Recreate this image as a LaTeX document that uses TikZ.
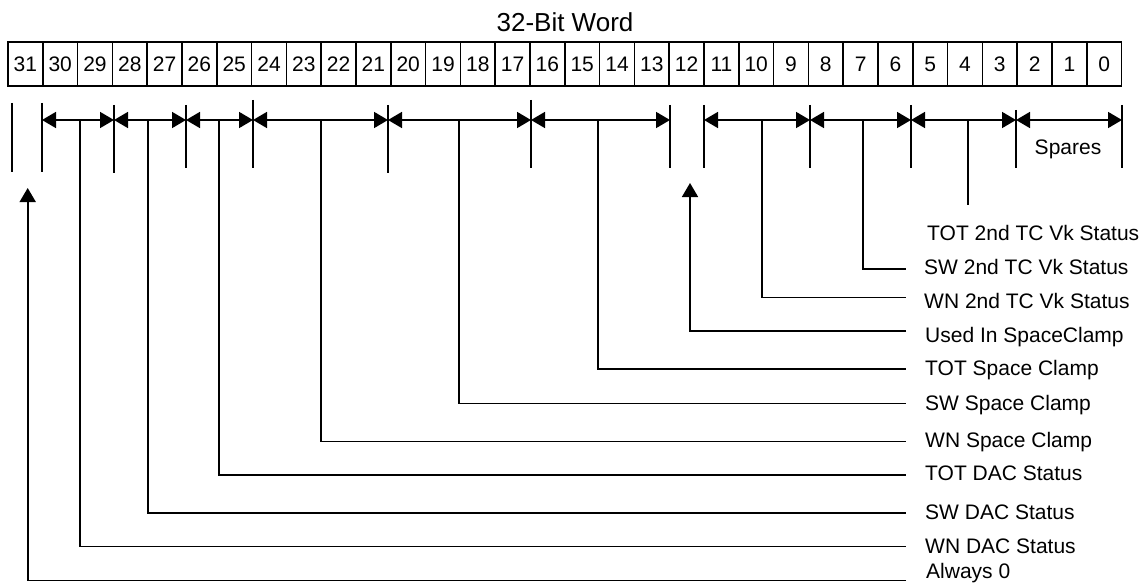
\documentclass[tikz,border=0pt]{standalone}
\usepackage{fontspec}
\setmainfont{Liberation Sans}
\usetikzlibrary{arrows.meta}
\begin{document}
\begin{tikzpicture}[x=1pt,y=-1pt,
  ln/.style={line width=1.7pt,line cap=butt},
  cell/.style={draw,line width=1.7pt,minimum width=34.8pt,minimum height=44pt,inner sep=0pt,font=\fontsize{21}{25}\selectfont},
  dimarrow/.style={ln,{Triangle[length=14pt,width=16pt]}-{Triangle[length=14pt,width=16pt]}},
  uparrow/.style={ln,-{Triangle[length=14pt,width=16pt]}},
  lbl/.style={anchor=base west,inner sep=0pt,font=\fontsize{21}{25}\selectfont},
  ttl/.style={inner sep=0pt,font=\fontsize{26}{30}\selectfont}]
\useasboundingbox (0,0) rectangle (1139,583);
% title
\node[ttl] (title) at (565,22.7) {32-Bit Word};
% register cells
\foreach \i in {0,...,31}{
  \node[cell] (b\i) at ({8+34.8*(31-\i)+17.4},64) {\i};
}
% ticks (x, top, bottom)
\foreach \n/\x/\ya/\yb in {0/12/103/172, 1/42/103/172, 2/114/105/173, 3/186/105/168,
  4/253/100/168, 5/388/105/173, 6/531/100/168, 7/670/105/168, 8/704/105/168,
  9/810/105/168, 10/911/105/168, 11/1016/110/168, 12/1122/105/168}{
  \coordinate (ta\n) at (\x,\ya);
  \coordinate (tb\n) at (\x,\yb);
  \coordinate (tm\n) at (\x,120);
  \draw[ln] (ta\n) -- (tb\n);
}
% dimension arrows
\foreach \a/\b in {1/2,2/3,3/4,4/5,5/6,6/7,8/9,9/10,10/11,11/12}{
  \draw[dimarrow] (tm\a) -- (tm\b);
}
% spares label
\node[lbl,anchor=base] (spares) at (1068,154.3) {Spares};
% labels
\node[lbl] (l1) at (927,240.5) {TOT 2nd TC Vk Status};
\node[lbl] (l2) at (924,274.2) {SW 2nd TC Vk Status};
\node[lbl] (l3) at (924,308.5) {WN 2nd TC Vk Status};
\node[lbl] (l4) at (925,342.5) {Used In SpaceClamp};
\node[lbl] (l5) at (925,375.5) {TOT Space Clamp};
\node[lbl] (l6) at (925,410.2) {SW Space Clamp};
\node[lbl] (l7) at (925,447.5) {WN Space Clamp};
\node[lbl] (l8) at (925,480.5) {TOT DAC Status};
\node[lbl] (l9) at (925,519.2) {SW DAC Status};
\node[lbl] (l10) at (925,553.3) {WN DAC Status};
\node[lbl] (l11) at (926,578.5) {Always 0};
% leader start points on the dimension line
\coordinate (s1) at (968,120);
\coordinate (s2) at (863,120);
\coordinate (s3) at (762,120);
\coordinate (s5) at (598,120);
\coordinate (s6) at (459,120);
\coordinate (s7) at (321,120);
\coordinate (s8) at (219,120);
\coordinate (s9) at (148,120);
\coordinate (s10) at (80,120);
% leader ends
\coordinate (e1) at (968,205);
\coordinate (e2) at (906,268.8);
\coordinate (e3) at (906,297.5);
\coordinate (e4) at (906,331);
\coordinate (e5) at (906,369.3);
\coordinate (e6) at (906,403.5);
\coordinate (e7) at (906,441.5);
\coordinate (e8) at (906,475);
\coordinate (e9) at (906,513.3);
\coordinate (e10) at (906,546.5);
\coordinate (e11) at (906,580.5);
% up arrow tips
\coordinate (u4) at (690,183);
\coordinate (u11) at (27.7,188);
% leaders
\draw[ln] (s1) -- (e1);
\foreach \k in {2,3,5,6,7,8,9,10}{
  \draw[ln] (s\k) |- (e\k);
}
\draw[uparrow] (e4) -| (u4);
\draw[uparrow] (e11) -| (u11);
\end{tikzpicture}
\end{document}
